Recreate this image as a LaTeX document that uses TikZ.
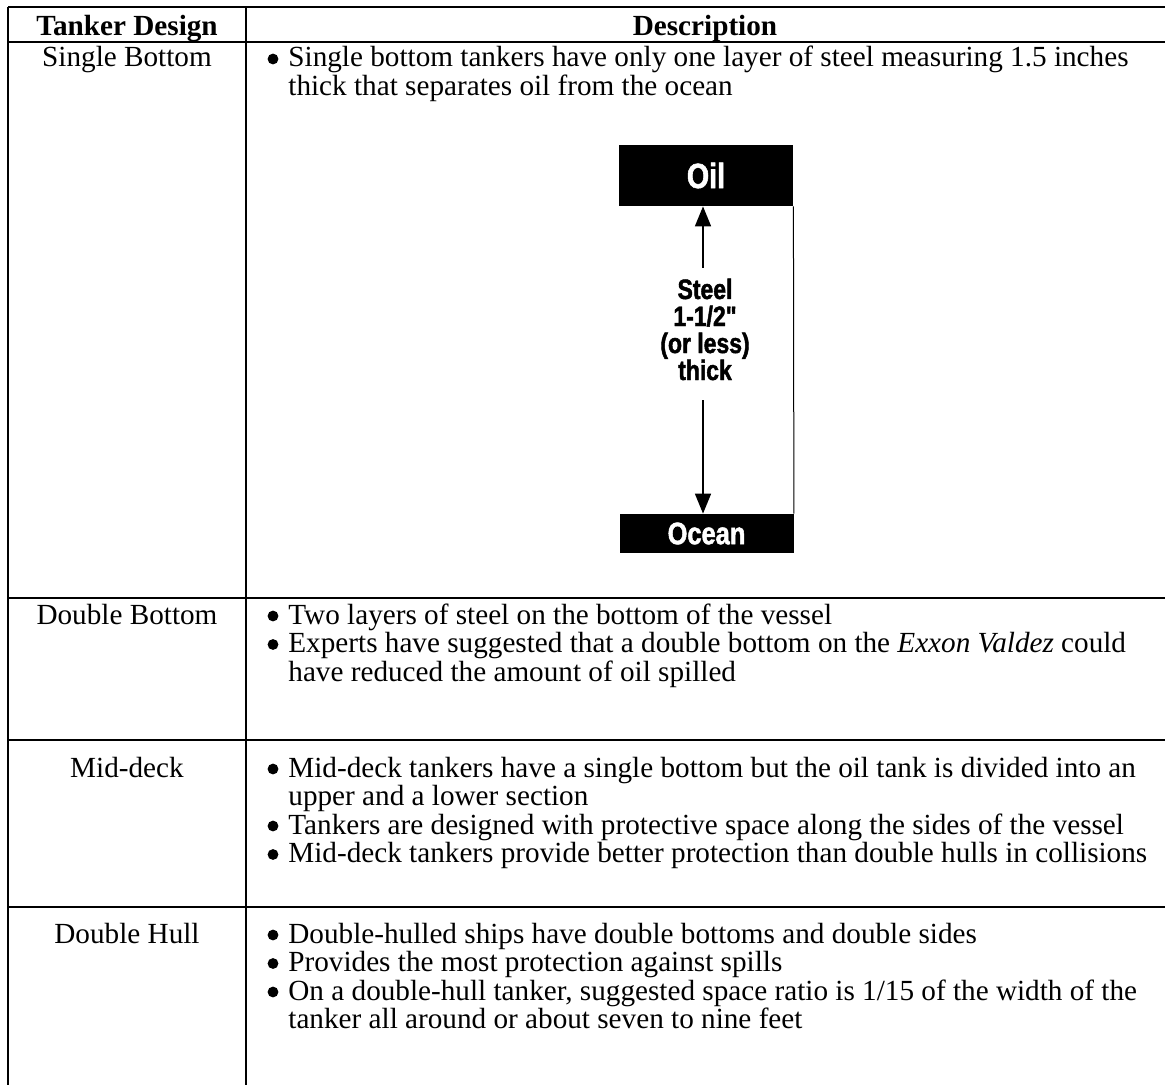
\documentclass[tikz,border=0pt]{standalone}
\usepackage{fontspec}
\setmainfont{Liberation Serif}
\newfontfamily\condfont[FakeStretch=0.82,FakeBold=1.6]{Liberation Sans}
\usetikzlibrary{arrows.meta}
\tikzset{
  rule/.style={line width=0.75pt, black},
  body/.style={anchor=base west, inner sep=0pt, font=\fontsize{14.6}{14}\selectfont},
  lab/.style={anchor=base, inner sep=0pt, font=\fontsize{14.6}{14}\selectfont},
  head/.style={anchor=base, inner sep=0pt, font=\fontsize{14.6}{14}\selectfont\bfseries},
  dot/.style={circle, fill=black, inner sep=0pt, minimum size=5.4pt},
  blackbox/.style={fill=black, text=white, inner sep=0pt, minimum width=87pt,
     font=\fontsize{15.5}{15.5}\selectfont\condfont\bfseries},
  steeltxt/.style={anchor=base, inner sep=0pt, font=\fontsize{14}{14}\selectfont\condfont\bfseries},
  arr/.style={line width=0.8pt, -{Triangle[length=10pt,width=8pt]}},
  thin/.style={line width=0.5pt}
}
\begin{document}
\begin{tikzpicture}[x=0.5pt,y=-0.5pt]
\useasboundingbox (0,0) rectangle (1165,1085);
% table rules
\draw[rule] (8,7) -- (1165,7);
\draw[rule] (8,42) -- (1165,42);
\draw[rule] (8,598) -- (1165,598);
\draw[rule] (8,740) -- (1165,740);
\draw[rule] (8,907) -- (1165,907);
\draw[rule] (8,7) -- (8,1085);
\draw[rule] (246,7) -- (246,1085);
% header
\node[head] (h1) at (127,36) {Tanker Design};
\node[head] (h2) at (705,36) {Description};
% row 1
\node[lab] (r1) at (127,67) {Single Bottom};
\node[dot] (d11) at (273,59) {};
\node[body] (t11) at (288,67) {Single bottom tankers have only one layer of steel measuring 1.5 inches};
\node[body] (t12) at (288,95.5) {thick that separates oil from the ocean};
% diagram
\node[blackbox, minimum height=30.5pt, font=\fontsize{17.5}{17.5}\selectfont\condfont\bfseries] (oil) at (706,175.5) {Oil};
\node[blackbox, minimum height=19.5pt] (ocean) at (706.5,533.5) {Ocean};
\draw[thin] (oil.south east) -- (ocean.north east);
\coordinate (upst) at (703,268);
\coordinate (dnst) at (703,400);
\draw[arr] (upst) -- (upst |- oil.south);
\draw[arr] (dnst) -- (dnst |- ocean.north);
\node[steeltxt] (s1) at (705,299) {Steel};
\node[steeltxt] (s2) at (705,326) {1-1/2"};
\node[steeltxt] (s3) at (705,353) {(or less)};
\node[steeltxt] (s4) at (705,380) {thick};
% row 2
\node[lab] (r2) at (127,624) {Double Bottom};
\node[dot] (d21) at (273,616) {};
\node[body] (t21) at (288,624) {Two layers of steel on the bottom of the vessel};
\node[dot] (d22) at (273,644.5) {};
\node[body] (t22) at (288,652.5) {Experts have suggested that a double bottom on the \textit{Exxon Valdez} could};
\node[body] (t23) at (288,681) {have reduced the amount of oil spilled};
% row 3
\node[lab] (r3) at (127,777) {Mid-deck};
\node[dot] (d31) at (273,769) {};
\node[body] (t31) at (288,777) {Mid-deck tankers have a single bottom but the oil tank is divided into an};
\node[body] (t32) at (288,805.5) {upper and a lower section};
\node[dot] (d32) at (273,826) {};
\node[body] (t33) at (288,834) {Tankers are designed with protective space along the sides of the vessel};
\node[dot] (d33) at (273,854.5) {};
\node[body] (t34) at (288,862.5) {Mid-deck tankers provide better protection than double hulls in collisions};
% row 4
\node[lab] (r4) at (127,943) {Double Hull};
\node[dot] (d41) at (273,935) {};
\node[body] (t41) at (288,943) {Double-hulled ships have double bottoms and double sides};
\node[dot] (d42) at (273,963.5) {};
\node[body] (t42) at (288,971.5) {Provides the most protection against spills};
\node[dot] (d43) at (273,992) {};
\node[body] (t43) at (288,1000) {On a double-hull tanker, suggested space ratio is 1/15 of the width of the};
\node[body] (t44) at (288,1028.5) {tanker all around or about seven to nine feet};
\end{tikzpicture}
\end{document}
